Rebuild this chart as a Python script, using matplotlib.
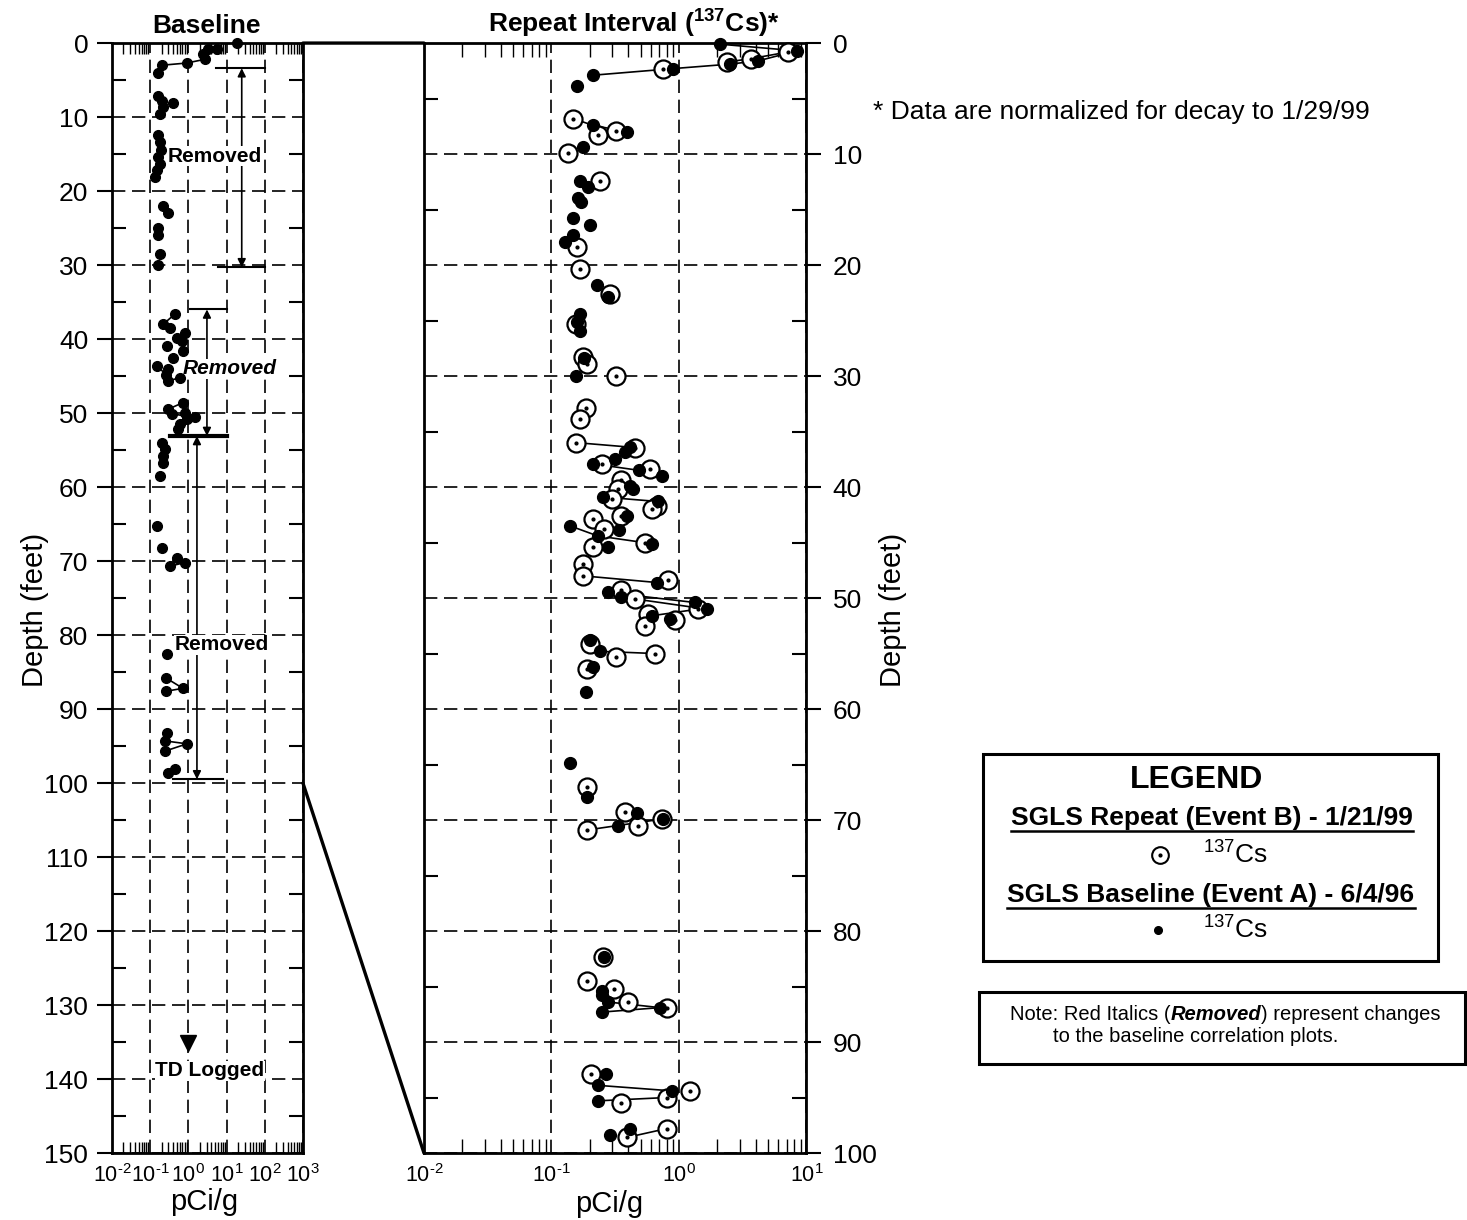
import numpy as np
import matplotlib
matplotlib.use('Agg')
import matplotlib.pyplot as plt
from matplotlib.patches import Rectangle, ConnectionPatch
from matplotlib.lines import Line2D
from matplotlib.ticker import LogLocator, MultipleLocator, NullFormatter

plt.rcParams['font.family'] = ['Liberation Sans', 'DejaVu Sans']
plt.rcParams['mathtext.fontset'] = 'custom'
plt.rcParams['mathtext.rm'] = 'Liberation Sans'
plt.rcParams['mathtext.it'] = 'Liberation Sans:italic'
plt.rcParams['mathtext.bf'] = 'Liberation Sans:bold'

# ---- baseline panel (Event A, full hole) ----
base_depth = [0.0, 0.8, 0.8, 1.5, 2.2, 2.7, 3.0, 4.0, 7.2, 7.8, 8.1, 8.6, 9.6,
              12.4, 13.4, 14.4, 15.4, 16.3, 17.2, 18.1, 22.0, 23.0, 25.0, 26.0,
              28.5, 30.0, 36.6, 38.0, 38.5, 39.2, 39.8, 40.3, 40.9, 41.6, 42.5,
              43.6, 44.1, 44.8, 45.7, 45.2, 48.6, 49.5, 50.1, 50.0, 50.6, 50.8,
              51.5, 52.1, 54.0, 54.9, 55.8, 56.7, 58.5, 65.3, 68.2, 69.6, 70.7,
              70.2, 82.6, 85.8, 87.6, 87.2, 93.2, 94.3, 95.7, 94.7, 98.6, 98.1]
base_val = [18.7, 3.3, 5.6, 2.4, 2.7, 0.90, 0.20, 0.16, 0.16, 0.20, 0.40, 0.22, 0.18,
            0.16, 0.18, 0.19, 0.16, 0.18, 0.15, 0.134, 0.22, 0.29, 0.16, 0.16,
            0.18, 0.16, 0.45, 0.22, 0.33, 0.81, 0.50, 0.68, 0.275, 0.72, 0.40,
            0.15, 0.29, 0.26, 0.29, 0.60, 0.72, 0.29, 0.37, 0.81, 1.49, 0.92,
            0.60, 0.53, 0.20, 0.24, 0.22, 0.22, 0.18, 0.15, 0.20, 0.50, 0.33,
            0.81, 0.275, 0.26, 0.26, 0.72, 0.275, 0.24, 0.24, 0.92, 0.29, 0.45]
base_lines = [
    ([3.0, 2.7, 2.2], [0.20, 0.90, 2.7]),
    ([38.0, 36.6], [0.22, 0.45]),
    ([43.6, 44.8], [0.15, 0.26]),
    ([45.7, 45.2], [0.29, 0.60]),
    ([49.5, 48.6], [0.29, 0.72]),
    ([50.1, 50.6], [0.37, 1.49]),
    ([70.7, 70.2], [0.33, 0.81]),
    ([85.8, 87.2, 87.6], [0.26, 0.72, 0.26]),
    ([94.3, 94.7, 95.7], [0.24, 0.92, 0.24]),
    ([98.6, 98.1], [0.29, 0.45]),
]

# ---- repeat interval panel ----
rep_depth = [1.7, 1.4, 0.8, 2.3, 6.8, 8.3, 7.9, 9.9, 12.4, 18.4, 20.4, 22.6, 25.3,
             28.3, 28.9, 30.0, 32.9, 33.9, 36.0, 36.5, 37.9, 38.4, 39.4, 40.2,
             41.1, 41.7, 42.6, 42.0, 42.9, 43.8, 45.4, 45.0, 46.9, 48.0, 48.4,
             49.3, 50.1, 51.0, 51.4, 52.0, 52.5, 54.1, 55.3, 55.0, 56.4, 67.0,
             69.3, 69.9, 70.5, 70.9, 82.3, 84.5, 85.2, 86.4, 86.9, 92.9, 94.4,
             95.0, 95.5, 98.6, 97.8]
rep_val = [2.4, 3.7, 7.2, 0.75, 0.148, 0.23, 0.32, 0.135, 0.24, 0.16, 0.167, 0.29,
           0.157, 0.177, 0.19, 0.32, 0.188, 0.167, 0.157, 0.45, 0.25, 0.59, 0.35,
           0.33, 0.30, 0.67, 0.35, 0.61, 0.21, 0.26, 0.21, 0.54, 0.177, 0.177,
           0.82, 0.35, 0.45, 1.41, 0.57, 0.93, 0.54, 0.20, 0.32, 0.65, 0.19, 0.19,
           0.38, 0.73, 0.48, 0.19, 0.255, 0.19, 0.31, 0.40, 0.80, 0.206, 1.22,
           0.80, 0.35, 0.39, 0.80]
old_depth = [0.1, 0.7, 1.9, 1.6, 2.3, 2.9, 3.9, 7.4, 8.0, 9.4, 12.4, 13.0, 14.0,
             14.3, 15.8, 16.4, 17.3, 17.9, 21.8, 22.9, 24.4, 25.1, 25.9, 28.4,
             30.0, 36.4, 36.8, 37.9, 37.5, 38.5, 39.0, 39.9, 40.2, 40.9, 41.3,
             42.6, 43.5, 44.4, 43.9, 45.4, 45.1, 48.6, 49.5, 49.9, 50.4, 51.0,
             51.6, 51.9, 53.8, 54.8, 56.2, 58.5, 64.9, 67.9, 69.4, 69.9, 70.5,
             82.3, 85.4, 85.8, 86.4, 86.9, 87.3, 92.9, 93.9, 94.4, 95.3, 98.4, 97.8]
old_val = [2.1, 8.4, 2.5, 4.2, 0.90, 0.21, 0.158, 0.21, 0.39, 0.178, 0.167, 0.195,
           0.162, 0.17, 0.148, 0.20, 0.148, 0.127, 0.226, 0.28, 0.167, 0.16,
           0.167, 0.18, 0.157, 0.41, 0.38, 0.21, 0.315, 0.49, 0.73, 0.41, 0.44,
           0.255, 0.68, 0.39, 0.14, 0.23, 0.34, 0.28, 0.61, 0.67, 0.28, 0.35,
           1.33, 1.65, 0.61, 0.85, 0.20, 0.24, 0.21, 0.185, 0.14, 0.19, 0.47,
           0.75, 0.33, 0.26, 0.25, 0.25, 0.28, 0.71, 0.25, 0.27, 0.23, 0.88,
           0.23, 0.29, 0.41]
rep_lines = [
    ([2.9, 2.3, 1.9], [0.21, 0.90, 2.5]),
    ([1.9, 1.6, 0.7], [2.5, 4.2, 8.4]),
    ([1.7, 1.4, 0.8], [2.4, 3.7, 7.2]),
    ([0.1, 0.7], [2.1, 8.4]),
    ([6.8, 7.4, 8.0], [0.148, 0.21, 0.39]),
    ([36.0, 36.4], [0.157, 0.41]),
    ([37.9, 38.5], [0.21, 0.49]),
    ([40.9, 41.3], [0.255, 0.68]),
    ([43.5, 44.4], [0.14, 0.23]),
    ([44.4, 45.1], [0.23, 0.61]),
    ([48.0, 48.6], [0.177, 0.67]),
    ([49.5, 50.4], [0.28, 1.33]),
    ([49.9, 51.0], [0.35, 1.65]),
    ([51.6, 51.0], [0.61, 1.41]),
    ([54.8, 55.0], [0.24, 0.65]),
    ([70.9, 69.9], [0.19, 0.75]),
    ([87.3, 86.9], [0.25, 0.71]),
    ([86.4, 86.9], [0.28, 0.71]),
    ([93.9, 94.4], [0.23, 0.88]),
    ([95.3, 95.0], [0.23, 0.80]),
    ([98.6, 97.8], [0.39, 0.80]),
]

xt_left = [1e-2, 1e-1, 1e0, 1e1, 1e2, 1e3]
xt_right = [1e-2, 1e-1, 1e0, 1e1]
xt_lab = {1e-2: r'10$^{\text{-2}}$', 1e-1: r'10$^{\text{-1}}$', 1e0: r'10$^{0}$',
          1e1: r'10$^{1}$', 1e2: r'10$^{2}$', 1e3: r'10$^{3}$'}

fig = plt.figure(figsize=(14.67, 12.2), dpi=100)
axL = fig.add_axes([0.0763, 0.0549, 0.1302, 0.9098])
axR = fig.add_axes([0.2890, 0.0549, 0.2607, 0.9098])


def setup(ax, xt, ylim, ystep, minlen):
    ax.set_xscale('log')
    ax.set_xlim(xt[0], xt[-1])
    ax.set_ylim(ylim, 0)
    ax.set_xticks(xt)
    ax.set_xticklabels([xt_lab[v] for v in xt])
    ax.xaxis.set_minor_locator(LogLocator(base=10, subs=np.arange(2, 10), numticks=100))
    ax.xaxis.set_minor_formatter(NullFormatter())
    ax.yaxis.set_major_locator(MultipleLocator(ystep))
    ax.yaxis.set_minor_locator(MultipleLocator(ystep / 2))
    ax.grid(True, which='major', color='k', linestyle=(0, (8, 4)), linewidth=1.2)
    ax.set_axisbelow(True)
    for s in ax.spines.values():
        s.set_linewidth(2.0)
    ax.tick_params(axis='x', which='major', length=0, labelsize=15.5, pad=8)
    ax.tick_params(axis='x', which='minor', direction='in', top=True, bottom=True,
                   length=minlen, width=1.0)


setup(axL, xt_left, 150, 10, 8)
setup(axR, xt_right, 100, 10, 10)

axL.tick_params(axis='y', which='major', direction='out', left=True, right=False,
                length=11, width=1.5, labelsize=19, pad=6)
axL.tick_params(axis='y', which='minor', direction='in', left=True, right=True,
                length=10, width=1.5)

axR.yaxis.tick_right()
axR.tick_params(axis='y', which='major', direction='out', left=False, right=True,
                labelleft=False, labelright=True, length=11, width=1.5,
                labelsize=19, pad=8)
axR.tick_params(axis='y', which='minor', direction='in', left=True, right=True,
                length=10, width=1.5)

# ---- baseline panel marks ----
for d, v in base_lines:
    axL.plot(v, d, color='k', lw=1.2, zorder=3)
axL.plot(base_val, base_depth, 'o', color='k', ms=7, zorder=4, clip_on=False)

# removed intervals
axL.plot([5.3, 100], [3.4, 3.4], color='k', lw=1.5, zorder=3)
axL.plot([5.9, 100], [30.3, 30.3], color='k', lw=1.5, zorder=3)
axL.annotate('', xy=(25, 30.3), xytext=(25, 3.4),
             arrowprops=dict(arrowstyle='<|-|>', color='k', lw=1.2,
                             mutation_scale=12, shrinkA=0, shrinkB=0), zorder=3)
axL.text(5.0, 15.3, 'Removed', fontsize=15, fontweight='bold', ha='center',
         va='center', zorder=3.5, bbox=dict(fc='white', ec='none', pad=0.5))

axL.plot([1.1, 10], [36.0, 36.0], color='k', lw=1.5, zorder=3)
axL.plot([0.33, 10], [53.1, 53.1], color='k', lw=3.0, zorder=3)
axL.annotate('', xy=(3.07, 53.1), xytext=(3.07, 36.0),
             arrowprops=dict(arrowstyle='<|-|>', color='k', lw=1.2,
                             mutation_scale=12, shrinkA=0, shrinkB=0), zorder=3)
axL.text(12.3, 44.0, 'Removed', fontsize=15, fontweight='bold', style='italic',
         ha='center', va='center', zorder=3.5,
         bbox=dict(fc='white', ec='none', pad=0.5))

axL.plot([0.40, 8.0], [99.5, 99.5], color='k', lw=1.5, zorder=3)
axL.annotate('', xy=(1.68, 99.5), xytext=(1.68, 53.1),
             arrowprops=dict(arrowstyle='<|-|>', color='k', lw=1.2,
                             mutation_scale=12, shrinkA=0, shrinkB=0), zorder=3)
axL.text(7.6, 81.3, 'Removed', fontsize=15, fontweight='bold', ha='center',
         va='center', zorder=3.5, bbox=dict(fc='white', ec='none', pad=0.5))

axL.plot([1.0], [135.1], 'v', color='k', ms=12, zorder=4)
axL.text(3.7, 138.9, 'TD Logged', fontsize=15, fontweight='bold', ha='center',
         va='center', zorder=3.5, bbox=dict(fc='white', ec='none', pad=0.5))

# ---- repeat panel marks ----
for d, v in rep_lines:
    axR.plot(v, d, color='k', lw=1.2, zorder=3)
axR.plot(rep_val, rep_depth, 'o', mfc='white', mec='k', mew=1.6, ms=13,
         ls='none', zorder=4, clip_on=False)
axR.plot(rep_val, rep_depth, 'o', color='k', ms=2, ls='none', zorder=4.2,
         clip_on=False)
axR.plot(old_val, old_depth, 'o', color='k', ms=8.5, ls='none', zorder=4.5,
         clip_on=False)

# connectors between panels
for dl, dr in [(0, 0), (100, 100)]:
    con = ConnectionPatch(xyA=(1e3, dl), coordsA=axL.transData,
                          xyB=(1e-2, dr), coordsB=axR.transData,
                          color='k', lw=2.4)
    fig.add_artist(con)

# ---- titles and axis labels ----
W, H = 1467.0, 1220.0


def fx(px):
    return px / W


def fy(py):
    return 1 - py / H


fig.text(fx(207), fy(33), 'Baseline', fontsize=19, fontweight='bold',
         ha='center', va='baseline')
fig.text(fx(634), fy(33), r'Repeat Interval ($^{\mathbf{137}}$Cs)*', fontsize=19,
         fontweight='bold', ha='center', va='baseline')
fig.text(fx(35), 0.5, 'Depth (feet)', fontsize=21, rotation=90,
         ha='center', va='center')
fig.text(fx(893), 0.5, 'Depth (feet)', fontsize=21, rotation=90,
         ha='center', va='center')
fig.text(fx(204), fy(1210), 'pCi/g', fontsize=21, ha='center', va='baseline')
fig.text(fx(609), fy(1212), 'pCi/g', fontsize=21, ha='center', va='baseline')

fig.text(fx(873), fy(112), '* Data are normalized for decay to 1/29/99',
         fontsize=19, ha='left', va='center')

# ---- legend box ----
fig.add_artist(Rectangle((fx(983), fy(961)), fx(1438) - fx(983), fy(754) - fy(961),
                         transform=fig.transFigure, fill=False, ec='k', lw=2.2))
fig.text(fx(1197), fy(780), 'LEGEND', fontsize=23, fontweight='bold',
         ha='center', va='center')
t1 = fig.text(fx(1212), fy(818), 'SGLS Repeat (Event B) - 1/21/99', fontsize=19,
              fontweight='bold', ha='center', va='center')
t2 = fig.text(fx(1211), fy(895), 'SGLS Baseline (Event A) - 6/4/96', fontsize=19,
              fontweight='bold', ha='center', va='center')
fig.add_artist(Line2D([fx(1160)], [fy(855)], marker='o', mfc='white', mec='k',
                      mew=1.5, ms=12, transform=fig.transFigure))
fig.add_artist(Line2D([fx(1160)], [fy(855)], marker='o', color='k', ms=2,
                      transform=fig.transFigure))
fig.add_artist(Line2D([fx(1158)], [fy(930)], marker='o', color='k', ms=5.5,
                      transform=fig.transFigure))
fig.text(fx(1203), fy(855), r'$^{137}$Cs', fontsize=19, ha='left', va='center')
fig.text(fx(1203), fy(930), r'$^{137}$Cs', fontsize=19, ha='left', va='center')

# ---- note box ----
fig.add_artist(Rectangle((fx(979), fy(1064)), fx(1465) - fx(979), fy(992) - fy(1064),
                         transform=fig.transFigure, fill=False, ec='k', lw=2.2))

fig.canvas.draw()
renderer = fig.canvas.get_renderer()
inv = fig.transFigure.inverted()

# underline legend headings
for t in (t1, t2):
    bb = t.get_window_extent(renderer)
    (x0, y0), (x1, _) = inv.transform([(bb.x0, bb.y0 - 1), (bb.x1, bb.y0)])
    fig.add_artist(Line2D([x0, x1], [y0, y0], color='k', lw=1.8,
                          transform=fig.transFigure))

# note line 1 with mixed styles
x = fx(1010)
pieces = [('Note: Red Italics (', {}),
          ('Removed', {'fontweight': 'bold', 'style': 'italic'}),
          (') represent changes', {})]
for s, kw in pieces:
    t = fig.text(x, fy(1015), s, fontsize=14.5, ha='left', va='center', **kw)
    bb = t.get_window_extent(renderer)
    x = inv.transform((bb.x1, bb.y0))[0]
fig.text(fx(1053), fy(1037), 'to the baseline correlation plots.', fontsize=14.5,
         ha='left', va='center')

fig.savefig('out.png', dpi=100)
